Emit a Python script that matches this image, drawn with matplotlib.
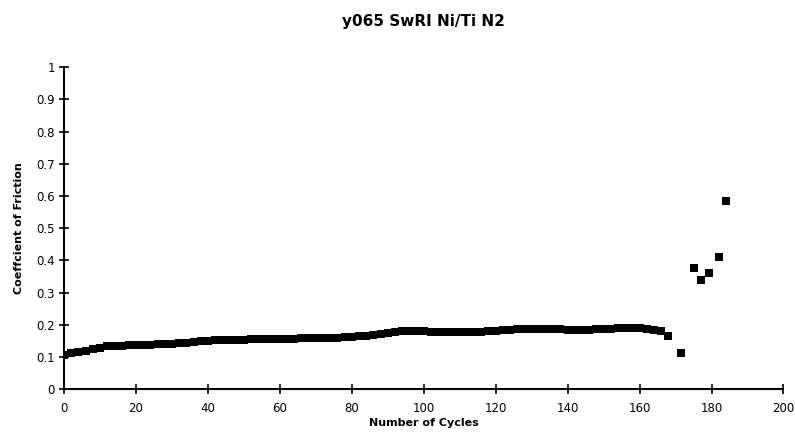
import matplotlib
matplotlib.use("Agg")
import matplotlib.pyplot as plt

# данные
cycles = [0, 2, 4, 6, 8, 10, 12, 14, 16, 18, 20, 22, 24, 26, 28, 30, 32, 34, 36, 38,
          40, 42, 44, 46, 48, 50, 52, 54, 56, 58, 60, 62, 64, 66, 68, 70, 72, 74, 76, 78,
          80, 82, 84, 86, 88, 90, 92, 94, 96, 98, 100, 102, 104, 106, 108, 110, 112, 114,
          116, 118, 120, 122, 124, 126, 128, 130, 132, 134, 136, 138, 140, 142, 144, 146,
          148, 150, 152, 154, 156, 158, 160, 162, 164, 166, 168,
          171.5, 175, 177.2, 179.2, 182, 184]
friction = [0.105, 0.112, 0.116, 0.120, 0.125, 0.129, 0.133, 0.135, 0.136, 0.137,
            0.138, 0.138, 0.139, 0.140, 0.141, 0.142, 0.143, 0.145, 0.147, 0.149,
            0.151, 0.152, 0.153, 0.153, 0.154, 0.154, 0.155, 0.155, 0.155, 0.156,
            0.156, 0.157, 0.157, 0.158, 0.158, 0.159, 0.159, 0.160, 0.160, 0.161,
            0.162, 0.164, 0.167, 0.170, 0.173, 0.176, 0.178, 0.180, 0.181, 0.181,
            0.180, 0.179, 0.178, 0.177, 0.177, 0.177, 0.177, 0.178, 0.179, 0.180,
            0.181, 0.183, 0.185, 0.186, 0.186, 0.187, 0.187, 0.187, 0.187, 0.186,
            0.185, 0.184, 0.184, 0.185, 0.186, 0.187, 0.188, 0.189, 0.189, 0.189,
            0.189, 0.188, 0.185, 0.180, 0.167,
            0.113, 0.378, 0.338, 0.362, 0.412, 0.585]

x_ticks = [0, 20, 40, 60, 80, 100, 120, 140, 160, 180, 200]
y_ticks = [0, 0.1, 0.2, 0.3, 0.4, 0.5, 0.6, 0.7, 0.8, 0.9, 1]
y_labels = ["0", "0.1", "0.2", "0.3", "0.4", "0.5", "0.6", "0.7", "0.8", "0.9", "1"]

fig = plt.figure(figsize=(7.95, 4.34), dpi=100)
ax = fig.add_axes([0.0805, 0.103, 0.905, 0.742])

ax.plot(cycles, friction, linestyle="none", marker="s", markersize=5.8,
        color="black", markeredgewidth=0)

ax.set_xlim(0, 200)
ax.set_ylim(0, 1)
ax.set_xticks(x_ticks)
ax.set_yticks(y_ticks)
ax.set_yticklabels(y_labels)
ax.tick_params(direction="inout", length=7, width=1.2, labelsize=8.5, colors="black")
ax.tick_params(axis="x", pad=6)
ax.tick_params(axis="y", pad=3)

for side in ["top", "right"]:
    ax.spines[side].set_visible(False)
for side in ["left", "bottom"]:
    ax.spines[side].set_linewidth(1.5)

ax.set_title("y065 SwRI Ni/Ti N2", fontsize=11, fontweight="bold", pad=30)
ax.set_xlabel("Number of Cycles", fontsize=8, fontweight="bold", labelpad=2)
ax.set_ylabel("Coeffcient of Friction", fontsize=8, fontweight="bold", labelpad=9)

fig.savefig("out.png", dpi=100)
